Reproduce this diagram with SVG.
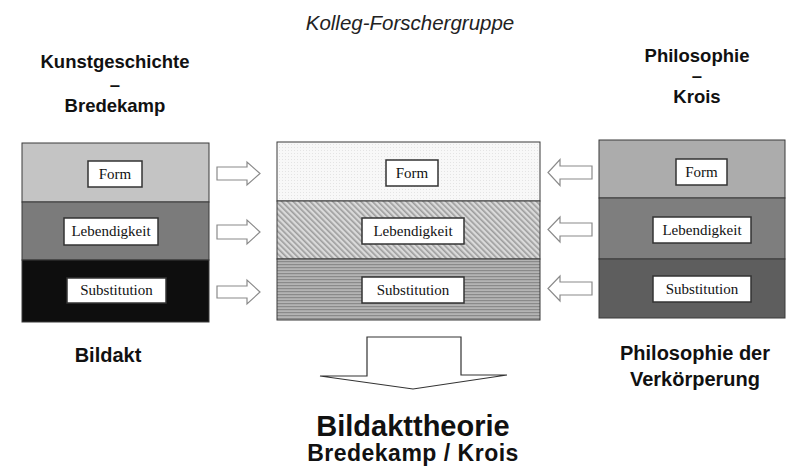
<svg xmlns="http://www.w3.org/2000/svg" width="788" height="468" viewBox="0 0 788 468">
<defs>
<pattern id="diag" width="4" height="4" patternUnits="userSpaceOnUse" patternTransform="rotate(-45)">
<rect width="4" height="4" fill="#dadada"/>
<rect width="1.6" height="4" fill="#9c9c9c"/>
</pattern>
<pattern id="horiz" width="4" height="3" patternUnits="userSpaceOnUse">
<rect width="4" height="3" fill="#b4b4b4"/>
<rect width="4" height="1.2" fill="#8a8a8a"/>
</pattern>
<pattern id="dots" width="3" height="3" patternUnits="userSpaceOnUse">
<rect width="3" height="3" fill="#f8f8f8"/>
<rect width="1" height="1" fill="#e4e4e4"/>
</pattern>
</defs>
<style>
.hd{font-family:"Liberation Sans",Arial,sans-serif;font-weight:bold;fill:#111;text-anchor:middle}
.ti{font-family:"Liberation Sans",Arial,sans-serif;font-style:italic;fill:#222;text-anchor:middle;font-size:20.5px}
.lb{font-family:"Liberation Serif","Times New Roman",serif;fill:#111;text-anchor:middle;font-size:15px}
.band{stroke:#3a3a3a;stroke-width:1}
.box{fill:#fff;stroke:#333;stroke-width:1.5}
.arr{fill:#fff;stroke:#8a8a8a;stroke-width:1.2}
.big{fill:#fff;stroke:#333;stroke-width:1.2}
</style>

<g id="title"><text class="ti" x="410" y="30">Kolleg-Forschergruppe</text></g>

<g id="head-left">
<text class="hd" x="115" y="68" font-size="18.5">Kunstgeschichte</text>
<text class="hd" x="115" y="91" font-size="18.5">–</text>
<text class="hd" x="115" y="112" font-size="18.5">Bredekamp</text>
</g>
<g id="head-right">
<text class="hd" x="697" y="62" font-size="18.5">Philosophie</text>
<text class="hd" x="697" y="82" font-size="18.5">–</text>
<text class="hd" x="697" y="103" font-size="18.5">Krois</text>
</g>

<g id="block-left">
<rect class="band" x="22" y="143" width="187" height="59" fill="#c4c4c4"/>
<rect class="band" x="22" y="202" width="187" height="58" fill="#7b7b7b"/>
<rect class="band" x="22" y="260" width="187" height="62" fill="#0e0e0e"/>
<g id="left-form"><rect class="box" x="88" y="161" width="54" height="26"/><text class="lb" x="115" y="179">Form</text></g>
<g id="left-leb"><rect class="box" x="64" y="218" width="94" height="27"/><text class="lb" x="111" y="236">Lebendigkeit</text></g>
<g id="left-sub"><rect class="box" x="67" y="278" width="99" height="25"/><text class="lb" x="116.5" y="295">Substitution</text></g>
</g>

<g id="block-middle">
<rect class="band" x="277" y="142" width="263" height="59" fill="url(#dots)"/>
<rect class="band" x="277" y="201" width="263" height="58" fill="url(#diag)"/>
<rect class="band" x="277" y="259" width="263" height="61" fill="url(#horiz)"/>
<g id="mid-form"><rect class="box" x="386" y="160" width="52" height="26"/><text class="lb" x="412" y="178">Form</text></g>
<g id="mid-leb"><rect class="box" x="362" y="218" width="102" height="26"/><text class="lb" x="413" y="236">Lebendigkeit</text></g>
<g id="mid-sub"><rect class="box" x="362" y="277" width="102" height="26"/><text class="lb" x="413" y="295">Substitution</text></g>
</g>

<g id="block-right">
<rect class="band" x="599" y="140" width="186" height="58" fill="#acacac"/>
<rect class="band" x="599" y="198" width="186" height="61" fill="#7e7e7e"/>
<rect class="band" x="599" y="259" width="186" height="59" fill="#5e5e5e"/>
<g id="right-form"><rect class="box" x="676" y="159" width="51" height="26"/><text class="lb" x="701.5" y="177">Form</text></g>
<g id="right-leb"><rect class="box" x="653" y="217" width="98" height="26"/><text class="lb" x="702" y="235">Lebendigkeit</text></g>
<g id="right-sub"><rect class="box" x="653" y="276" width="98" height="26"/><text class="lb" x="702" y="294">Substitution</text></g>
</g>

<g id="connectors">
<path class="arr" d="M217,167 H247 V162 L260,173.5 L247,185 V180 H217 Z"/>
<path class="arr" d="M217,225 H247 V220 L260,232 L247,244 V239 H217 Z"/>
<path class="arr" d="M217,286 H247 V280 L260,292 L247,304 V298 H217 Z"/>
<path class="arr" d="M592,166 H560 V159.5 L548,172.5 L560,185.5 V179 H592 Z"/>
<path class="arr" d="M592,223 H560 V217 L548,229.5 L560,242 V236 H592 Z"/>
<path class="arr" d="M592,282 H560 V276 L548,288.5 L560,301 V295 H592 Z"/>
<path class="big" d="M367,337 H461 V375 H507 L413,389 L320,376 H367 Z"/>
</g>

<g id="foot-left"><text class="hd" x="108" y="362" font-size="20">Bildakt</text></g>
<g id="foot-right">
<text class="hd" x="695" y="360" font-size="20">Philosophie der</text>
<text class="hd" x="695" y="386" font-size="20">Verkörperung</text>
</g>
<g id="result">
<text class="hd" x="413" y="436" font-size="29">Bildakttheorie</text>
<text class="hd" x="413" y="461" font-size="23" letter-spacing="0.5">Bredekamp / Krois</text>
</g>
</svg>
